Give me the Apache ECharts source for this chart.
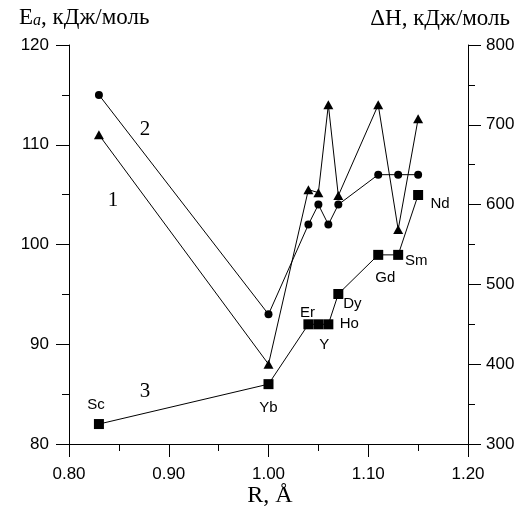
<!DOCTYPE html>
<html>
<head>
<meta charset="utf-8">
<script src="https://cdn.jsdelivr.net/npm/echarts@6/dist/echarts.min.js"></script>
<style>
  html, body { margin: 0; padding: 0; background: #fff; }
  #chart { width: 519px; height: 507px; }
</style>
</head>
<body>
<div id="chart"></div>
<script>
// Ionic radius, Å
var radius = [0.83, 1.00, 1.04, 1.05, 1.06, 1.07, 1.11, 1.13, 1.15];
// Elements in the same order
var elements = ['Sc', 'Yb', 'Er', 'Y', 'Ho', 'Dy', 'Gd', 'Sm', 'Nd'];
// Curve 1: activation energy Ea, kJ/mol (triangles)
var energy1 = [111, 88, 105.5, 105.2, 114, 104.9, 114, 101.5, 112.6];
// Curve 2: activation energy Ea, kJ/mol (circles)
var energy2 = [115, 93, 102, 104, 102, 104, 107, 107, 107];
// Curve 3: enthalpy ΔH, kJ/mol (squares)
var enthalpy = [325, 375, 450, 450, 450, 488, 537, 537, 612];

var sansFont = '"Liberation Sans", Arial, sans-serif';
var serifFont = '"Liberation Serif", "Times New Roman", serif';

// Where each element label sits relative to its square
var labelOffsets = {
  Sc: [-3, -19], Yb: [0, 24], Er: [-1, -11], Y: [6, 21], Ho: [21, 0],
  Dy: [14, 10], Gd: [7, 23], Sm: [18, 6], Nd: [22, 9]
};

function pairs(ys) {
  return radius.map(function (x, i) { return [x, ys[i]]; });
}

var squareData = radius.map(function (x, i) {
  var name = elements[i];
  return {
    value: [x, enthalpy[i]],
    name: name,
    label: {
      show: true,
      position: 'inside',
      offset: labelOffsets[name],
      formatter: name,
      color: '#000',
      fontFamily: sansFont,
      fontSize: 15
    }
  };
});

var chart = echarts.init(document.getElementById('chart'), null, { renderer: 'canvas' });

function yAxisCommon(pos) {
  return {
    type: 'value',
    position: pos,
    axisLine: { show: true, lineStyle: { color: '#000', width: 1 } },
    axisTick: { show: true, inside: false, length: 13, lineStyle: { color: '#000', width: 1 } },
    minorTick: { show: true, splitNumber: 2, length: 7, lineStyle: { color: '#000', width: 1 } },
    splitLine: { show: false },
    axisLabel: { color: '#000', fontFamily: sansFont, fontSize: 17, margin: 20 }
  };
}

var leftAxis = yAxisCommon('left');
leftAxis.min = 80; leftAxis.max = 120; leftAxis.interval = 10;
var rightAxis = yAxisCommon('right');
rightAxis.min = 300; rightAxis.max = 800; rightAxis.interval = 100;
rightAxis.axisLabel.margin = 18;

chart.setOption({
  animation: false,
  backgroundColor: '#fff',
  grid: { left: 69, right: 51, top: 45, bottom: 63, containLabel: false },
  xAxis: {
    type: 'value',
    min: 0.8, max: 1.2, interval: 0.1,
    axisLine: { show: true, onZero: false, lineStyle: { color: '#000', width: 1 } },
    axisTick: { show: true, inside: false, length: 13, lineStyle: { color: '#000', width: 1 } },
    minorTick: { show: true, splitNumber: 2, length: 7, lineStyle: { color: '#000', width: 1 } },
    splitLine: { show: false },
    axisLabel: {
      color: '#000', fontFamily: sansFont, fontSize: 17, margin: 22,
      formatter: function (v) { return v.toFixed(2); }
    }
  },
  yAxis: [leftAxis, rightAxis],
  series: [
    {
      name: '1',
      type: 'line',
      yAxisIndex: 0,
      data: pairs(energy1),
      symbol: 'triangle',
      symbolSize: [10, 9],
      itemStyle: { color: '#000' },
      lineStyle: { color: '#000', width: 1 },
      z: 3
    },
    {
      name: '2',
      type: 'line',
      yAxisIndex: 0,
      data: pairs(energy2),
      symbol: 'circle',
      symbolSize: 8,
      itemStyle: { color: '#000' },
      lineStyle: { color: '#000', width: 1 },
      z: 3
    },
    {
      name: '3',
      type: 'line',
      yAxisIndex: 1,
      data: squareData,
      symbol: 'rect',
      symbolSize: 10,
      itemStyle: { color: '#000' },
      lineStyle: { color: '#000', width: 1 },
      z: 4
    }
  ],
  graphic: [
    {
      type: 'text', left: 19, top: 6,
      style: {
        text: '{e|E}{s|a}{e|, кДж/моль}',
        rich: {
          e: { fontFamily: serifFont, fontSize: 23, lineHeight: 27, fill: '#000', verticalAlign: 'bottom' },
          s: { fontFamily: serifFont, fontSize: 16, fontStyle: 'italic', lineHeight: 22, fill: '#000', verticalAlign: 'bottom' }
        }
      }
    },
    {
      type: 'text', right: 9, top: 7,
      style: { text: 'ΔH, кДж/моль', font: '23px ' + serifFont, fill: '#000' }
    },
    {
      type: 'text', x: 270, y: 496,
      style: { text: 'R, Å', font: '24px ' + serifFont, fill: '#000', align: 'center', verticalAlign: 'middle' }
    },
    {
      type: 'text', x: 113, y: 200,
      style: { text: '1', font: '21px ' + serifFont, fill: '#000', align: 'center', verticalAlign: 'middle' }
    },
    {
      type: 'text', x: 145, y: 129,
      style: { text: '2', font: '21px ' + serifFont, fill: '#000', align: 'center', verticalAlign: 'middle' }
    },
    {
      type: 'text', x: 145, y: 391,
      style: { text: '3', font: '21px ' + serifFont, fill: '#000', align: 'center', verticalAlign: 'middle' }
    }
  ]
});
</script>
</body>
</html>
